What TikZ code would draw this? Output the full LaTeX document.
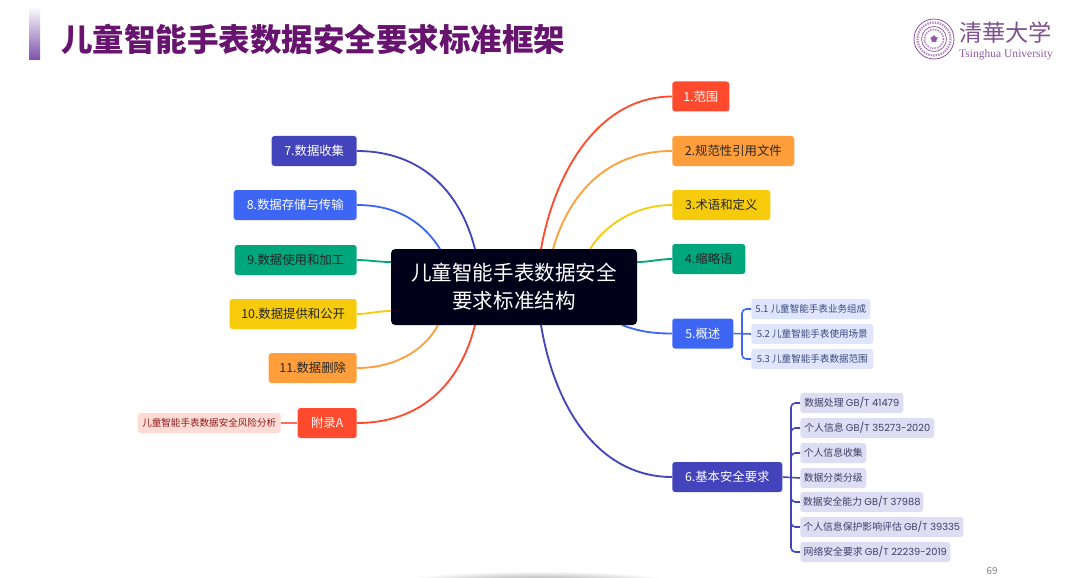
\documentclass[tikz,border=0pt]{standalone}
\usepackage{fontspec}
\setmainfont{Noto Sans CJK SC}
\newfontfamily\latinfont{Liberation Serif}
\newfontfamily\numfont{Poppins}
\usetikzlibrary{backgrounds,shapes.geometric}
\definecolor{cRed}{HTML}{FF4A2D}
\definecolor{cOrange}{HTML}{FF9E3B}
\definecolor{cYellow}{HTML}{F5CB0C}
\definecolor{cGreen}{HTML}{00A67C}
\definecolor{cBlue}{HTML}{3D66F5}
\definecolor{cIndigo}{HTML}{4343BB}
\definecolor{cPurple}{HTML}{66146E}
\definecolor{cLogo}{HTML}{8B5AA0}
\def\px{0.025cm}
\tikzset{
	rootbox/.style = {fill = black!90!blue, rounded corners = 3pt, text = white, align = center, inner sep = 0,
		font = \fontsize{14.6}{20}\selectfont, minimum width = 246*\px, minimum height = 76*\px},
	branchbox/.style = {rounded corners = 2pt, inner sep = 0, text = black!85, minimum height = 30*\px,
		font = \fontsize{8.8}{10}\selectfont},
	leafbox/.style = {rounded corners = 2pt, inner sep = 0, anchor = west, minimum height = 20*\px,
		font = \fontsize{6.8}{8}\selectfont},
	leafblue/.style = {leafbox, fill = cBlue!17, text = black!50!cBlue!70!gray},
	leafindigo/.style = {leafbox, fill = cIndigo!18, text = black!50!cIndigo!70!gray, font = \fontsize{7}{8}\selectfont},
	curve/.style = {line width = 1.3pt},
	twig/.style = {line width = 1.1pt, rounded corners = 3pt}
}
\begin{document}
\begin{tikzpicture}[x = 0.025cm, y = -0.025cm]
	\path [use as bounding box, clip] (0,0) rectangle (1080,578);
	% title
	\shade [top color = white, bottom color = cLogo!90!blue] (29,6) rectangle (40,60);
	\node [anchor = west, inner sep = 0, text = cPurple, font = \fontsize{22.4}{26}\selectfont\bfseries] (title) at (61,39) {儿童智能手表数据安全要求标准框架};
	% logo
	\draw [cLogo, line width = 0.6pt] (934,39) circle (20);
	\draw [cLogo!70, line width = 1.6pt, dash pattern = on 1pt off 0.8pt] (934,39) circle (16.5);
	\draw [cLogo, line width = 0.5pt] (934,39) circle (12.5);
	\draw [cLogo!70, line width = 1.2pt, dash pattern = on 1pt off 0.8pt] (934,39) circle (9.5);
	\node [star, fill = cLogo, inner sep = 0, minimum size = 8*\px] (logostar) at (934,39) {};
	\node [inner sep = 0, text = cLogo!90!black, font = \fontsize{16.5}{18}\selectfont] (logocn) at (1005.5,33) {清華大学};
	\node [inner sep = 0, text = cLogo, font = \latinfont\fontsize{8.2}{10}\selectfont] (logoen) at (1006,55) {Tsinghua University};
	% root
	\node [rootbox] (root) at (514,287) {儿童智能手表数据安全\\要求标准结构};
	% right side
	\node [branchbox, anchor = west, fill = cRed, text = white, minimum width = 57*\px] (scope) at (672,96.5) {1.范围};
	\node [branchbox, anchor = west, fill = cOrange, minimum width = 122*\px] (refs) at (672,151) {2.规范性引用文件};
	\node [branchbox, anchor = west, fill = cYellow, minimum width = 98*\px] (terms) at (672,205) {3.术语和定义};
	\node [branchbox, anchor = west, fill = cGreen, minimum width = 73*\px] (abbr) at (672,259) {4.缩略语};
	\node [branchbox, anchor = west, fill = cBlue, text = white, minimum width = 61*\px] (overview) at (672,333.5) {5.概述};
	\node [branchbox, anchor = west, fill = cIndigo, text = white, minimum width = 110*\px] (basic) at (672,477) {6.基本安全要求};
	% left side
	\node [branchbox, anchor = east, fill = cIndigo, text = white, minimum width = 85*\px] (collect) at (357,151) {7.数据收集};
	\node [branchbox, anchor = east, fill = cBlue, text = white, minimum width = 123*\px] (store) at (357,205) {8.数据存储与传输};
	\node [branchbox, anchor = east, fill = cGreen, minimum width = 122*\px] (use) at (357,260) {9.数据使用和加工};
	\node [branchbox, anchor = east, fill = cYellow, minimum width = 127*\px] (provide) at (357,314) {10.数据提供和公开};
	\node [branchbox, anchor = east, fill = cOrange, minimum width = 88*\px] (delete) at (357,368) {11.数据删除};
	\node [branchbox, anchor = east, fill = cRed, text = white, minimum width = 59*\px] (annex) at (357,423) {附录A};
	\node [leafbox, anchor = east, fill = cRed!20, text = black!45!red!80!gray, minimum width = 143*\px] (risk) at (281,423) {儿童智能手表数据安全风险分析};
	% leaves of 5
	\node [leafblue, minimum width = 119*\px] (ov1) at (751,309) {5.1 儿童智能手表业务组成};
	\node [leafblue, minimum width = 122*\px] (ov2) at (751,334) {5.2 儿童智能手表使用场景};
	\node [leafblue, minimum width = 122*\px] (ov3) at (751,359) {5.3 儿童智能手表数据范围};
	% leaves of 6
	\node [leafindigo, minimum width = 103*\px] (ba1) at (800,403) {数据处理 {\numfont GB/T 41479}};
	\node [leafindigo, minimum width = 134*\px] (ba2) at (800,428) {个人信息 {\numfont GB/T 35273-2020}};
	\node [leafindigo, minimum width = 66*\px] (ba3) at (800,453) {个人信息收集};
	\node [leafindigo, minimum width = 66*\px] (ba4) at (800,478) {数据分类分级};
	\node [leafindigo, minimum width = 123*\px] (ba5) at (800,502) {数据安全能力 {\numfont GB/T 37988}};
	\node [leafindigo, minimum width = 163*\px] (ba6) at (800,527) {个人信息保护影响评估 {\numfont GB/T 39335}};
	\node [leafindigo, minimum width = 150*\px] (ba7) at (800,552) {网络安全要求 {\numfont GB/T 22239-2019}};
	% page number and shadow
	\node [inner sep = 0, text = black!50, font = \fontsize{7}{9}\selectfont] (page) at (992,571) {69};
	\shade [inner color = black!55, outer color = white] (538,586) ellipse (155 and 15);
	% where the curves leave the root
	\coordinate (r1) at (541,249);
	\coordinate (r2) at (553,249);
	\coordinate (r3) at (590,249);
	\coordinate (r4) at (637,262);
	\coordinate (r5) at (622,325);
	\coordinate (r6) at (541,325);
	\coordinate (r7) at (475,249);
	\coordinate (r8) at (440,249);
	\coordinate (r9) at (391,262);
	\coordinate (r10) at (391,311);
	\coordinate (r11) at (438,325);
	\coordinate (r12) at (475,325);
	\coordinate (j5) at (742,333.5);
	\coordinate (j6) at (791,477);
	\begin{scope}[on background layer]
	\draw [curve, cRed] (r1) .. controls (555,170) and (600,96.5) .. (scope.west);
	\draw [curve, cOrange] (r2) .. controls (570,190) and (610,151) .. (refs.west);
	\draw [curve, cYellow] (r3) .. controls (605,225) and (635,205) .. (terms.west);
	\draw [curve, cGreen] (r4) .. controls (650,262) and (660,259) .. (abbr.west);
	\draw [curve, cBlue] (r5) .. controls (640,332) and (655,333.5) .. (overview.west);
	\draw [curve, cIndigo] (r6) .. controls (555,410) and (600,477) .. (basic.west);
	\draw [curve, cIndigo] (r7) .. controls (460,190) and (420,151) .. (collect.east);
	\draw [curve, cBlue] (r8) .. controls (425,225) and (400,205) .. (store.east);
	\draw [curve, cGreen] (r9) .. controls (378,262) and (368,260) .. (use.east);
	\draw [curve, cYellow] (r10) .. controls (378,311) and (368,314) .. (provide.east);
	\draw [curve, cOrange] (r11) .. controls (425,350) and (395,368) .. (delete.east);
	\draw [curve, cRed] (r12) .. controls (460,385) and (420,423) .. (annex.east);
	\draw [twig, cRed!80] (annex.west) -- (risk.east);
	\draw [twig, cBlue] (overview.east) -- (ov2.west);
	\foreach \n in {ov1,ov3}{
	\draw [twig, cBlue] (j5) |- (\n.west);
	}
	\draw [twig, cIndigo] (basic.east) -- (ba4.west);
	\foreach \n in {ba1,ba2,ba3,ba5,ba6,ba7}{
	\draw [twig, cIndigo] (j6) |- (\n.west);
	}
	\end{scope}
\end{tikzpicture}
\end{document}
